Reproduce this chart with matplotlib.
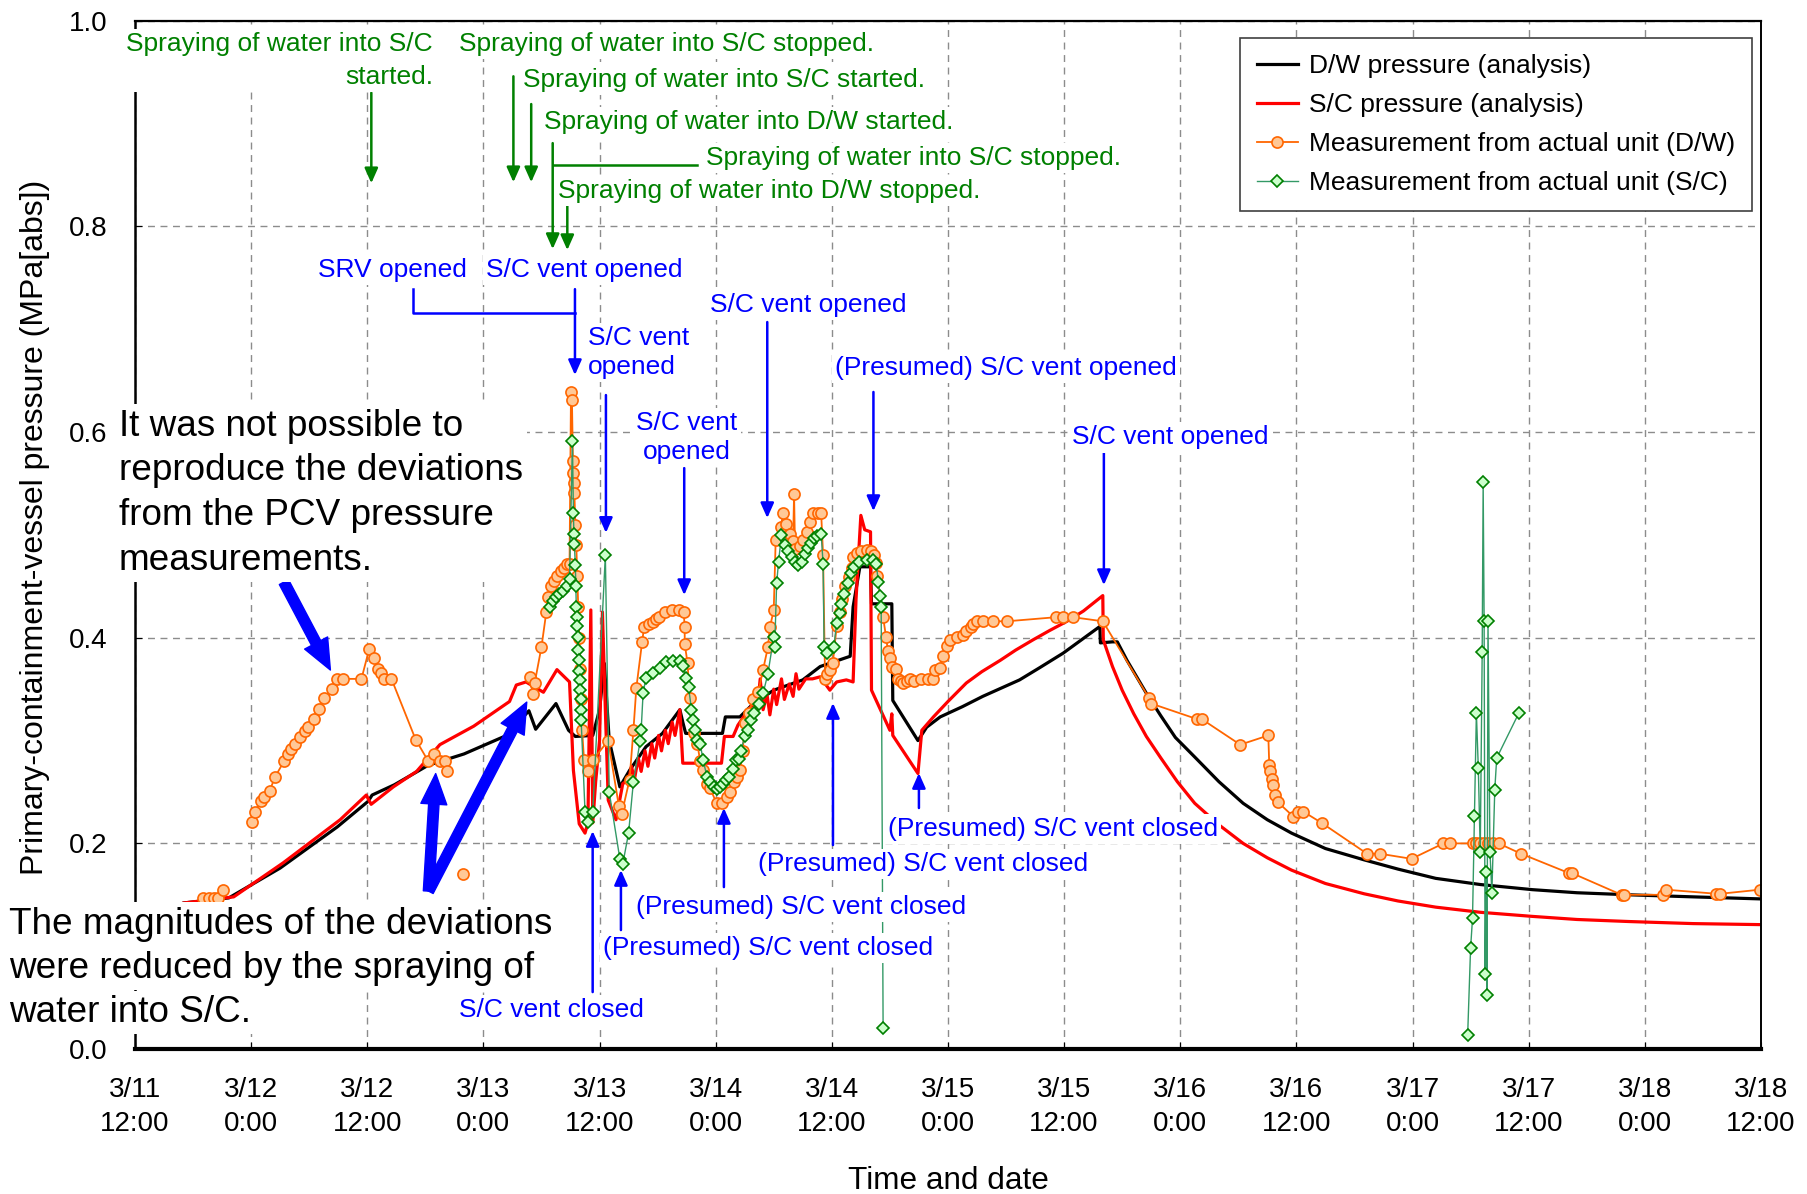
import numpy as np
import matplotlib.pyplot as plt

plt.rcParams['font.family'] = ['Liberation Sans', 'DejaVu Sans']

# time axis: hours after 3/11 12:00, pressure in MPa[abs]
dw_calc_t = [0, 5, 9.7, 15.0, 20.9, 24.1, 24.5, 26.8, 30.3, 34.0, 38.4, 40.7, 41.4, 43.5, 44.8,
             45.5, 47.3, 48.0, 48.5, 49.0, 50.1, 51.1, 52.8, 54.5, 56.3, 56.6, 56.9, 60.7, 61.0, 62.5,
             63.9, 66.0, 69.0, 70.8, 73.9, 74.2, 74.9, 76.0, 76.1, 78.2, 78.3, 80.9, 81.8, 83.2, 85.5,
             87.6, 89.5, 91.4, 93.5, 95.9, 97.8, 99.7, 99.75, 101.0, 101.5, 102.5, 103.5, 104.5, 106.0,
             107.5, 109.5, 112.0, 114.5, 117.0, 119.5, 123.0, 127.0, 130.5, 134.4, 139.0, 144.4, 149.0,
             154.4, 161.0, 168.0]
dw_calc_p = [0.12, 0.142, 0.147, 0.176, 0.216, 0.241, 0.247, 0.257, 0.276, 0.287, 0.305, 0.329, 0.311,
             0.336, 0.310, 0.304, 0.305, 0.330, 0.375, 0.300, 0.255, 0.271, 0.294, 0.307, 0.330, 0.318,
             0.307, 0.307, 0.323, 0.323, 0.336, 0.349, 0.359, 0.372, 0.382, 0.430, 0.469, 0.469, 0.433,
             0.433, 0.339, 0.300, 0.313, 0.323, 0.333, 0.343, 0.351, 0.359, 0.371, 0.385, 0.398, 0.411,
             0.395, 0.396, 0.396, 0.378, 0.362, 0.346, 0.324, 0.303, 0.284, 0.260, 0.239, 0.223, 0.210,
             0.195, 0.184, 0.175, 0.166, 0.160, 0.155, 0.152, 0.150, 0.148, 0.146]

sc_calc_t = [0, 5, 10.2, 15.3, 21.2, 23.9, 24.4, 26.7, 29.1, 31.5, 35.0, 38.7, 39.4, 40.4, 42.2,
             43.6, 44.9, 45.3, 45.9, 46.5, 46.8, 47.1, 47.3, 47.6, 48.0, 48.3, 48.6, 48.9, 49.7, 50.4,
             51.0, 51.3, 51.6, 52.0, 52.3, 52.7, 53.0, 53.4, 53.7, 54.1, 54.4, 54.8, 55.1, 55.5, 55.8,
             56.3, 56.6, 60.6, 60.9, 61.8, 62.3, 62.8, 63.4, 63.9, 64.3, 64.6, 64.9, 65.3, 65.6, 66.0,
             66.3, 66.8, 67.1, 67.6, 68.0, 68.3, 68.6, 69.3, 70.0, 70.8, 71.8, 72.5, 73.5, 74.2, 74.5,
             75.0, 75.4, 76.0, 76.1, 78.0, 78.2, 78.3, 80.9, 81.3, 82.5, 84.0, 85.9, 87.5, 89.4, 91.0,
             92.8, 94.5, 96.3, 98.0, 100.0, 100.05, 101.0, 102.0, 103.2, 104.5, 106.0, 107.7, 109.5,
             112.0, 114.5, 117.0, 119.5, 123.0, 127.0, 130.5, 134.4, 139.0, 144.4, 149.0, 154.4, 161.0,
             168.0]
sc_calc_p = [0.12, 0.142, 0.148, 0.181, 0.223, 0.247, 0.238, 0.255, 0.270, 0.296, 0.314, 0.338, 0.354,
             0.357, 0.347, 0.369, 0.357, 0.271, 0.219, 0.210, 0.22, 0.427, 0.22, 0.26, 0.30, 0.425,
             0.33, 0.242, 0.223, 0.258, 0.262, 0.275, 0.262, 0.283, 0.270, 0.290, 0.275, 0.297, 0.283,
             0.305, 0.290, 0.310, 0.297, 0.318, 0.305, 0.330, 0.278, 0.278, 0.304, 0.304, 0.315, 0.322,
             0.330, 0.336, 0.330, 0.360, 0.330, 0.345, 0.325, 0.350, 0.335, 0.360, 0.340, 0.355, 0.343,
             0.365, 0.350, 0.360, 0.360, 0.362, 0.349, 0.357, 0.359, 0.357, 0.437, 0.519, 0.505, 0.503,
             0.349, 0.310, 0.326, 0.305, 0.268, 0.310, 0.323, 0.338, 0.356, 0.367, 0.378, 0.388, 0.398,
             0.407, 0.416, 0.426, 0.441, 0.398, 0.372, 0.349, 0.326, 0.304, 0.283, 0.260, 0.239, 0.218,
             0.200, 0.186, 0.174, 0.161, 0.151, 0.144, 0.138, 0.133, 0.129, 0.126, 0.124, 0.122, 0.121]

nan = np.nan
# measured D/W pressure (gaps where the recorder had no data)
dw_meas = [
    (7.0, 0.147), (7.6, 0.147), (8.2, 0.147), (8.6, 0.147), (9.1, 0.155), (nan, nan),
    (12.07, 0.221), (12.4, 0.231), (13.0, 0.241), (13.3, 0.245), (13.9, 0.251), (14.5, 0.265),
    (15.4, 0.280), (15.8, 0.287), (16.1, 0.292), (16.5, 0.297), (17.0, 0.303), (17.6, 0.309),
    (17.9, 0.313), (18.5, 0.321), (19.0, 0.331), (19.5, 0.341), (20.4, 0.350), (20.9, 0.360),
    (21.5, 0.360), (23.4, 0.360), (24.2, 0.389), (24.7, 0.380), (25.1, 0.370), (25.4, 0.366),
    (25.7, 0.360), (26.5, 0.360), (29.0, 0.301), (30.3, 0.280), (30.9, 0.287), (31.5, 0.280),
    (32.0, 0.280), (32.2, 0.270), (nan, nan), (33.9, 0.170), (nan, nan),
    (40.8, 0.362), (41.1, 0.345), (41.3, 0.356), (42.0, 0.391), (42.5, 0.425), (42.7, 0.440),
    (43.0, 0.450), (43.3, 0.455), (43.6, 0.460), (44.0, 0.465), (44.3, 0.468), (44.6, 0.472),
    (44.9, 0.472), (45.05, 0.639), (45.15, 0.631), (45.25, 0.572), (45.3, 0.560), (45.35, 0.550),
    (45.4, 0.541), (45.5, 0.510), (45.6, 0.490), (45.7, 0.460), (45.8, 0.430), (45.9, 0.400),
    (46.0, 0.370), (46.1, 0.340), (46.2, 0.310), (46.4, 0.281), (46.8, 0.270), (47.3, 0.281),
    (48.9, 0.300), (50.0, 0.236), (50.3, 0.229), (51.1, 0.262), (51.5, 0.310), (51.8, 0.351),
    (52.4, 0.396), (52.6, 0.410), (53.1, 0.413), (53.5, 0.415), (53.8, 0.418), (54.1, 0.420),
    (54.8, 0.425), (55.5, 0.427), (56.2, 0.427), (56.7, 0.425), (56.8, 0.410), (56.8, 0.394),
    (57.1, 0.375), (57.3, 0.341), (57.8, 0.307), (58.1, 0.297), (58.4, 0.280), (58.7, 0.271),
    (59.1, 0.258), (59.4, 0.254), (60.1, 0.239), (60.7, 0.239), (61.2, 0.245), (61.5, 0.250),
    (61.9, 0.260), (62.2, 0.265), (62.5, 0.271), (62.8, 0.290), (63.0, 0.317), (63.4, 0.327),
    (63.9, 0.340), (64.4, 0.347), (64.9, 0.369), (65.4, 0.391), (65.6, 0.410), (66.0, 0.427),
    (66.2, 0.495), (66.7, 0.508), (67.0, 0.521), (67.3, 0.511), (67.7, 0.501), (68.0, 0.494),
    (68.1, 0.540), (68.2, 0.486), (68.7, 0.489), (69.0, 0.495), (69.4, 0.503), (69.7, 0.513),
    (70.1, 0.521), (70.6, 0.521), (70.9, 0.521), (71.1, 0.480), (71.3, 0.360), (71.5, 0.365),
    (71.8, 0.369), (72.1, 0.375), (72.5, 0.411), (72.8, 0.425), (73.1, 0.438), (73.4, 0.450),
    (73.8, 0.459), (74.1, 0.468), (74.2, 0.479), (74.6, 0.482), (75.0, 0.484), (75.6, 0.485),
    (76.1, 0.484), (76.4, 0.480), (76.6, 0.473), (76.7, 0.460), (77.3, 0.420), (77.6, 0.401),
    (77.8, 0.387), (78.0, 0.380), (78.2, 0.372), (78.6, 0.370), (78.8, 0.360), (79.1, 0.358),
    (79.4, 0.356), (79.8, 0.358), (80.1, 0.360), (80.5, 0.358), (81.2, 0.360), (81.9, 0.360),
    (82.5, 0.360), (82.7, 0.369), (83.2, 0.371), (83.5, 0.382), (83.9, 0.392), (84.2, 0.398),
    (84.9, 0.401), (85.6, 0.403), (85.9, 0.407), (86.4, 0.410), (86.6, 0.413), (87.0, 0.416),
    (87.6, 0.416), (88.7, 0.416), (90.1, 0.416), (95.2, 0.420), (95.9, 0.420), (96.9, 0.420),
    (100.0, 0.416), (104.8, 0.341), (105.0, 0.336), (109.7, 0.321), (110.2, 0.321),
    (114.2, 0.296), (117.1, 0.305), (117.2, 0.276), (117.3, 0.270), (117.5, 0.263),
    (117.6, 0.257), (117.8, 0.247), (118.1, 0.240), (119.7, 0.226), (120.2, 0.231),
    (120.7, 0.231), (122.6, 0.220), (127.3, 0.190), (128.6, 0.190), (131.9, 0.185),
    (135.2, 0.200), (135.9, 0.200), (138.2, 0.200), (138.6, 0.200), (139.0, 0.200),
    (139.4, 0.200), (139.8, 0.200), (140.3, 0.200), (140.9, 0.200), (143.2, 0.190),
    (148.2, 0.171), (148.5, 0.171), (153.6, 0.150), (153.9, 0.150), (157.9, 0.150),
    (158.2, 0.155), (163.4, 0.151), (163.8, 0.151), (167.9, 0.155),
]

# measured S/C pressure
sc_meas = [
    (42.9, 0.430), (43.2, 0.436), (43.5, 0.440), (43.8, 0.443), (44.2, 0.445), (44.6, 0.450),
    (44.9, 0.457), (45.2, 0.591), (45.3, 0.521), (45.35, 0.501), (45.4, 0.491), (45.5, 0.471),
    (45.55, 0.450), (45.6, 0.430), (45.65, 0.420), (45.7, 0.411), (45.75, 0.401), (45.8, 0.388),
    (45.85, 0.378), (45.9, 0.368), (45.95, 0.359), (46.0, 0.349), (46.05, 0.340), (46.1, 0.330),
    (46.1, 0.320), (46.5, 0.231), (46.8, 0.221), (47.3, 0.231), (48.6, 0.480), (49.0, 0.250),
    (50.1, 0.185), (50.4, 0.180), (51.0, 0.210), (51.5, 0.260), (52.2, 0.300), (52.3, 0.310),
    (52.5, 0.346), (52.8, 0.361), (53.5, 0.366), (54.2, 0.371), (54.9, 0.376), (55.6, 0.377),
    (56.3, 0.377), (56.6, 0.373), (56.9, 0.361), (57.2, 0.352), (57.5, 0.330), (57.7, 0.320),
    (57.9, 0.310), (58.1, 0.301), (58.4, 0.297), (58.7, 0.281), (59.1, 0.265), (59.4, 0.260),
    (59.8, 0.255), (60.1, 0.253), (60.4, 0.255), (60.8, 0.258), (61.1, 0.262), (61.4, 0.265),
    (61.8, 0.272), (62.1, 0.281), (62.4, 0.282), (62.6, 0.290), (63.0, 0.304), (63.3, 0.310),
    (63.6, 0.320), (64.0, 0.327), (64.5, 0.336), (64.9, 0.346), (65.4, 0.365), (66.0, 0.401),
    (66.1, 0.391), (66.3, 0.453), (66.5, 0.474), (66.8, 0.500), (67.2, 0.490), (67.5, 0.484),
    (67.9, 0.479), (68.2, 0.474), (68.5, 0.471), (68.9, 0.474), (69.2, 0.481), (69.5, 0.487),
    (69.9, 0.492), (70.2, 0.497), (70.5, 0.499), (70.9, 0.501), (71.1, 0.472), (71.2, 0.391),
    (71.5, 0.385), (72.2, 0.391), (72.5, 0.414), (72.8, 0.424), (73.0, 0.433), (73.3, 0.443),
    (73.7, 0.453), (74.0, 0.463), (74.3, 0.469), (74.8, 0.474), (75.6, 0.476), (76.3, 0.476),
    (76.6, 0.472), (76.8, 0.454), (77.0, 0.441), (77.1, 0.430), (77.3, 0.020), (nan, nan),
    (137.7, 0.014), (138.0, 0.098), (138.2, 0.127), (138.4, 0.227), (138.6, 0.327),
    (138.8, 0.273), (139.0, 0.192), (139.2, 0.386), (139.3, 0.551), (139.4, 0.416),
    (139.5, 0.073), (139.6, 0.172), (139.7, 0.053), (139.8, 0.416), (140.0, 0.192),
    (140.2, 0.152), (140.5, 0.252), (140.7, 0.283), (143.0, 0.327),
]

tick_hours = list(range(0, 169, 12))
tick_labels = ['3/11\n12:00', '3/12\n0:00', '3/12\n12:00', '3/13\n0:00', '3/13\n12:00',
               '3/14\n0:00', '3/14\n12:00', '3/15\n0:00', '3/15\n12:00', '3/16\n0:00',
               '3/16\n12:00', '3/17\n0:00', '3/17\n12:00', '3/18\n0:00', '3/18\n12:00']

GREEN = '#008000'
BLUE = '#0000ff'

fig = plt.figure(figsize=(18.07, 11.94), dpi=100)
ax = fig.add_axes([0.0747, 0.1214, 0.8998, 0.8612])

dw_t, dw_p = np.array(dw_meas).T
sc_t, sc_p = np.array(sc_meas).T

ax.plot(dw_calc_t, dw_calc_p, color='black', lw=2.3, label='D/W pressure (analysis)')
ax.plot(sc_calc_t, sc_calc_p, color='red', lw=2.3, label='S/C pressure (analysis)')
ax.plot(dw_t, dw_p, color='#ff6600', lw=1.3, marker='o', ms=8, mfc='#ffc896', mec='#ff6600',
        mew=1.2, label='Measurement from actual unit (D/W)')
ax.plot(sc_t, sc_p, color='#339966', lw=1.0, marker='D', ms=6.5, mfc='#ccffcc', mec=GREEN,
        mew=1.2, label='Measurement from actual unit (S/C)')

ax.set_xlim(0, 168)
ax.set_ylim(0, 1.0)
ax.set_xticks(tick_hours)
ax.set_xticklabels(tick_labels, linespacing=1.4)
ax.set_yticks(np.arange(0, 1.01, 0.2))
ax.set_yticklabels(['%.1f' % v for v in np.arange(0, 1.01, 0.2)])
ax.tick_params(direction='in', length=5, labelsize=20)
ax.tick_params(axis='x', pad=20)
ax.tick_params(axis='y', pad=20)
ax.grid(True, color='#8c8c8c', lw=1.0, linestyle=(0, (5, 4)))
ax.set_axisbelow(True)
for side, w in [('left', 1.8), ('bottom', 3.0), ('top', 1.6), ('right', 1.4)]:
    ax.spines[side].set_linewidth(w)

ax.set_xlabel('Time and date', fontsize=22.7)
ax.xaxis.set_label_coords(0.5, -0.1288)
ax.xaxis.label.set_va('center')
ax.set_ylabel('Primary-containment-vessel pressure (MPa[abs])', fontsize=23)
ax.yaxis.set_label_coords(-0.0615, 0.5076)
ax.yaxis.label.set_va('center')

leg = ax.legend(loc='upper right', bbox_to_anchor=(0.9945, 0.9832), borderaxespad=0,
                fontsize=19, fancybox=False, framealpha=1, edgecolor='#404040',
                handlelength=1.55, handletextpad=0.45, labelspacing=0.56, borderpad=0.62)
leg.get_frame().set_linewidth(1.2)
leg.set_zorder(7)

box = dict(facecolor='white', edgecolor='none', boxstyle='square,pad=0.12')


def label(x, y, s, color, ha='left', size=19, z=6, **kw):
    ax.text(x, y, s, color=color, fontsize=size, ha=ha, va='center', zorder=z, bbox=box, **kw)


def pointer(x, y0, y1, color):
    ax.annotate('', xy=(x, y1), xytext=(x, y0), zorder=5,
                arrowprops=dict(arrowstyle='-|>,head_length=0.45,head_width=0.2', color=color,
                                lw=1.8, shrinkA=0, shrinkB=0, mutation_scale=20))


# spraying events
label(30.79, 0.9613, 'Spraying of water into S/C\nstarted.', GREEN, ha='right',
      multialignment='right', linespacing=1.45)
pointer(24.42, 0.930, 0.842, GREEN)
label(33.47, 0.9773, 'Spraying of water into S/C stopped.', GREEN)
pointer(39.10, 0.946, 0.843, GREEN)
label(40.09, 0.9423, 'Spraying of water into S/C started.', GREEN)
pointer(40.94, 0.919, 0.843, GREEN)
label(42.26, 0.9015, 'Spraying of water into D/W started.', GREEN)
pointer(43.16, 0.881, 0.778, GREEN)
ax.plot([43.16, 58.02], [0.8597, 0.8597], color=GREEN, lw=1.8, zorder=5)
label(58.99, 0.8665, 'Spraying of water into S/C stopped.', GREEN)
label(43.70, 0.8344, 'Spraying of water into D/W stopped.', GREEN)
pointer(44.67, 0.823, 0.777, GREEN)

# vent operations
label(18.91, 0.7576, 'SRV opened', BLUE)
label(36.26, 0.7576, 'S/C vent opened', BLUE)
ax.plot([28.72, 28.72, 45.46], [0.739, 0.7157, 0.7157], color=BLUE, lw=1.8, zorder=5)
pointer(45.46, 0.739, 0.6555, BLUE)
label(46.80, 0.6773, 'S/C vent\nopened', BLUE, linespacing=1.25)
pointer(48.66, 0.636, 0.502, BLUE)
label(57.03, 0.5947, 'S/C vent\nopened', BLUE, ha='center', linespacing=1.25)
pointer(56.75, 0.565, 0.4415, BLUE)
label(59.41, 0.7235, 'S/C vent opened', BLUE)
pointer(65.33, 0.707, 0.5164, BLUE)
label(72.37, 0.6621, '(Presumed) S/C vent opened', BLUE)
pointer(76.30, 0.639, 0.5232, BLUE)
label(96.81, 0.5948, 'S/C vent opened', BLUE)
pointer(100.11, 0.5835, 0.4512, BLUE)

label(77.80, 0.2139, '(Presumed) S/C vent closed', BLUE)
pointer(81.00, 0.2344, 0.2684, BLUE)
label(64.37, 0.1799, '(Presumed) S/C vent closed', BLUE)
pointer(72.12, 0.1984, 0.3365, BLUE)
label(51.76, 0.1381, '(Presumed) S/C vent closed', BLUE)
pointer(60.85, 0.1575, 0.2344, BLUE)
label(48.35, 0.0982, '(Presumed) S/C vent closed', BLUE)
pointer(50.21, 0.1157, 0.1741, BLUE)
label(33.47, 0.0379, 'S/C vent closed', BLUE, z=6.5)
pointer(47.29, 0.0554, 0.2120, BLUE)

# remarks on the deviations
label(-1.68, 0.5405, 'It was not possible to\nreproduce the deviations\nfrom the PCV pressure\n'
      'measurements.', 'black', size=26.6, z=5.5, linespacing=1.36)
remark_lines = ['The magnitudes of the deviations', 'were reduced by the spraying of',
                'water into S/C.']
for y, line in zip([0.1215, 0.0785, 0.0355], remark_lines):
    label(-13.02, y, line, 'black', size=26.6, z=5.5)

thick = dict(arrowstyle='simple,head_length=1.0,head_width=0.85,tail_width=0.34',
             color=BLUE, shrinkA=0, shrinkB=0, mutation_scale=22)
ax.annotate('', xy=(20.19, 0.3686), xytext=(15.39, 0.4541), arrowprops=thick, zorder=5)
ax.annotate('', xy=(31.07, 0.2679), xytext=(30.33, 0.1536), arrowprops=thick, zorder=5)
ax.annotate('', xy=(40.48, 0.3374), xytext=(30.33, 0.1536), arrowprops=thick, zorder=5)

fig.savefig('out.png', dpi=100)
